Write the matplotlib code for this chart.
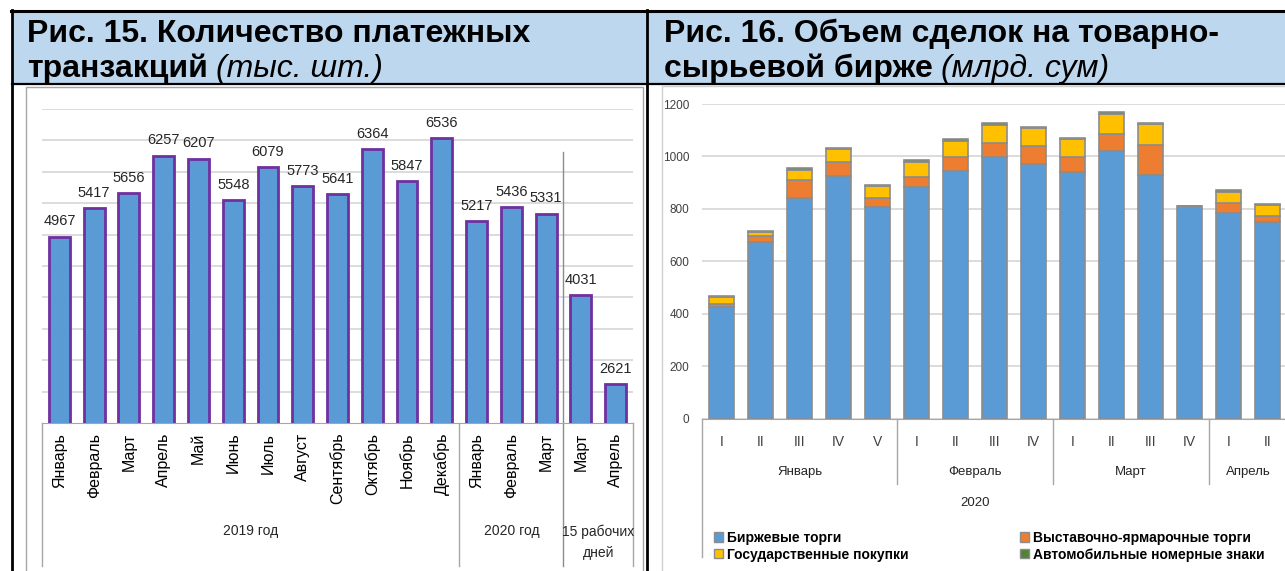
import matplotlib
matplotlib.use('Agg')
import matplotlib.pyplot as plt
from matplotlib.patches import Rectangle, Patch
from matplotlib.lines import Line2D

# ---- data: fig. 15 (payment transactions, thousand) ----
months_15 = ['Январь', 'Февраль', 'Март', 'Апрель', 'Май', 'Июнь', 'Июль',
             'Август', 'Сентябрь', 'Октябрь', 'Ноябрь', 'Декабрь',
             'Январь', 'Февраль', 'Март', 'Март', 'Апрель']
transactions = [4967, 5417, 5656, 6257, 6207, 5548, 6079, 5773, 5641, 6364,
                5847, 6536, 5217, 5436, 5331, 4031, 2621]
groups_15 = ['2019 год', '2020 год', '15 рабочих\nдней']

# ---- data: fig. 16 (commodity exchange deals, bn sum) ----
weeks = ['I', 'II', 'III', 'IV', 'V', 'I', 'II', 'III', 'IV',
         'I', 'II', 'III', 'IV', 'I', 'II']
months_16 = ['Январь', 'Февраль', 'Март', 'Апрель']
exchange = [426, 672, 842, 925, 806, 884, 945, 997, 972, 941, 1022, 929, 810, 783, 751]
fairs = [10, 23, 69, 52, 36, 37, 52, 55, 66, 58, 62, 114, 0, 38, 21]
state = [28, 17, 37, 52, 45, 58, 62, 69, 70, 66, 77, 80, 0, 44, 44]
plates = [5, 4, 7, 5, 4, 6, 6, 5, 5, 6, 7, 6, 2, 6, 3]
series_names = ['Биржевые торги', 'Выставочно-ярмарочные торги',
                'Государственные покупки', 'Автомобильные номерные знаки']

W, H = 1285, 571
SANS = ['Liberation Sans', 'DejaVu Sans']
GRID = '#D9D9D9'
AXIS = '#A6A6A6'
TXT = '#262626'


def fx(x):
    return x / W


def fy(y):
    return 1 - y / H


fig = plt.figure(figsize=(W / 100, H / 100), dpi=100)
plt.rcParams['font.family'] = SANS

# headers and borders
for x0, x1 in [(12, 648), (648, W + 2)]:
    fig.patches.append(Rectangle((fx(x0), fy(84)), fx(x1) - fx(x0), fy(12) - fy(84),
                                 transform=fig.transFigure, facecolor='#BDD7EE',
                                 edgecolor='none', zorder=0))
fig.patches.append(Rectangle((fx(26), fy(600)), fx(643) - fx(26), fy(87) - fy(600),
                             transform=fig.transFigure, facecolor='none',
                             edgecolor=AXIS, lw=1, zorder=1))
fig.patches.append(Rectangle((fx(662), fy(600)), fx(1300) - fx(662), fy(86) - fy(600),
                             transform=fig.transFigure, facecolor='none',
                             edgecolor='#D0D0D0', lw=1, zorder=1))
fig.lines.append(Line2D([fx(11), 1], [fy(11), fy(11)], transform=fig.transFigure,
                        color='black', lw=2.2))
fig.lines.append(Line2D([fx(12), 1], [fy(84), fy(84)], transform=fig.transFigure,
                        color='black', lw=1.6))
for xv in [12, 647]:
    fig.lines.append(Line2D([fx(xv), fx(xv)], [0, fy(10)], transform=fig.transFigure,
                            color='black', lw=2))

renderer = fig.canvas.get_renderer()


def header(x, line1, line2, line2_it):
    fig.text(fx(x), fy(42), line1, fontsize=23, fontweight='bold',
             va='baseline', ha='left')
    t = fig.text(fx(x), fy(77), line2, fontsize=23, fontweight='bold',
                 va='baseline', ha='left')
    bb = t.get_window_extent(renderer)
    fig.text(bb.x1 / W + fx(8), fy(77), line2_it, fontsize=23, style='italic',
             va='baseline', ha='left')


header(27, 'Рис. 15. Количество платежных', 'транзакций', '(тыс. шт.)')
header(664, 'Рис. 16. Объем сделок на товарно-', 'сырьевой бирже', '(млрд. сум)')

# ---- fig. 15 ----
ax1 = fig.add_axes([fx(42), fy(423), fx(633) - fx(42), fy(109) - fy(423)])
x1 = range(len(transactions))
bars = ax1.bar(x1, transactions, width=0.6, color='#5B9BD5', edgecolor='#7030A0',
               linewidth=2, zorder=3)
for b, v in zip(bars, transactions):
    ax1.annotate(str(v), (b.get_x() + b.get_width() / 2, v), xytext=(0, 6),
                 textcoords='offset points', ha='center', va='bottom',
                 fontsize=10.5, color=TXT)
ax1.set_ylim(2000, 7000)
ax1.set_xlim(-0.5, len(transactions) - 0.5)
ax1.set_yticks(range(2500, 7001, 500))
ax1.yaxis.grid(True, color=GRID, lw=1.3)
ax1.set_axisbelow(True)
ax1.tick_params(axis='y', length=0, labelleft=False)
ax1.set_xticks(list(x1))
ax1.set_xticklabels(months_15, rotation=90, fontsize=11.5)
ax1.tick_params(axis='x', length=0, pad=7)
for s in ['top', 'left', 'right']:
    ax1.spines[s].set_visible(False)
ax1.spines['bottom'].set_color(AXIS)


def ay1(y):
    return (423 - y) / (423 - 109)


for xv in [-0.5, 11.5, 16.5]:
    ax1.axvline(xv, ymin=ay1(566), ymax=0, color=AXIS, lw=1, clip_on=False)
ax1.axvline(14.5, ymin=ay1(566), ymax=ay1(152), color='#8C8C8C', lw=1, clip_on=False)
for xc, g, yc in zip([5.5, 13, 15.5], groups_15, [531, 531, 542]):
    ax1.text(xc, ay1(yc), g, transform=ax1.get_xaxis_transform(), ha='center',
             va='center', fontsize=10, linespacing=1.6, color=TXT)

# ---- fig. 16 ----
ax2 = fig.add_axes([fx(702), fy(418.5), fx(1287) - fx(702), fy(104) - fy(418.5)])
x2 = list(range(len(exchange)))
colors = ['#5B9BD5', '#ED7D31', '#FFC000', '#548235']
bottom = [0] * len(exchange)
for vals, c in zip([exchange, fairs, state, plates], colors):
    ax2.bar(x2, vals, bottom=bottom, width=0.62, color=c, edgecolor='#8C8C8C',
            linewidth=1.2, zorder=3)
    bottom = [b + v for b, v in zip(bottom, vals)]
ax2.set_ylim(0, 1200)
ax2.set_xlim(-0.5, len(exchange) - 0.5)
ax2.set_yticks(range(0, 1201, 200))
ax2.set_yticklabels([str(v) for v in range(0, 1201, 200)], fontsize=8.5,
                    color='#404040')
ax2.yaxis.grid(True, color=GRID, lw=1.3)
ax2.set_axisbelow(True)
ax2.tick_params(axis='y', length=0, pad=9)
ax2.set_xticks(x2)
ax2.set_xticklabels(weeks, fontsize=10, color='#404040')
ax2.tick_params(axis='x', length=0, pad=12)
for s in ['top', 'left', 'right']:
    ax2.spines[s].set_visible(False)
ax2.spines['bottom'].set_color(AXIS)


def ay2(y):
    return (418.5 - y) / (418.5 - 104)


ax2.axvline(-0.5, ymin=ay2(557), ymax=0, color=AXIS, lw=1, clip_on=False)
for xv in [4.5, 8.5, 12.5]:
    ax2.axvline(xv, ymin=ay2(484), ymax=0, color=AXIS, lw=1, clip_on=False)
for xc, m in zip([2, 6.5, 10.5, 13.5], months_16):
    ax2.text(xc, ay2(472), m, transform=ax2.get_xaxis_transform(), ha='center',
             va='center', fontsize=9.5, color=TXT)
ax2.text(6.5, ay2(503), '2020', transform=ax2.get_xaxis_transform(), ha='center',
         va='center', fontsize=9.5, color=TXT)

handles = [Patch(facecolor=c, edgecolor='#8C8C8C', lw=1) for c in colors]
order = [0, 2, 1, 3]
leg = fig.legend([handles[i] for i in order], [series_names[i] for i in order],
                 ncol=2, loc='upper left', bbox_to_anchor=(fx(707), fy(524)),
                 frameon=False, handlelength=0.65, handleheight=0.65,
                 handletextpad=0.3, columnspacing=8.0, labelspacing=0.2,
                 borderpad=0, prop={'weight': 'bold', 'size': 10})

fig.savefig('out.png', dpi=100)
